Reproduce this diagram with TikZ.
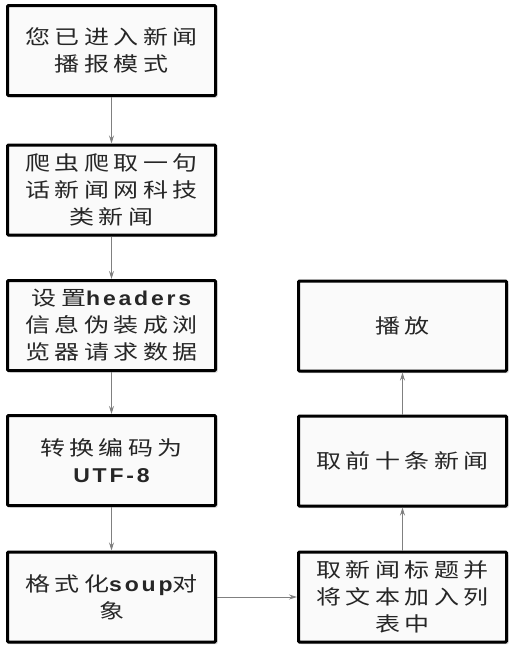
\documentclass[tikz,border=0pt]{standalone}
\usepackage{fontspec}
\setmainfont{Liberation Sans}
\newfontfamily\cjkf[LetterSpace=22,FakeStretch=1.25]{Noto Sans CJK SC}
\newfontfamily\latf[LetterSpace=14,FakeStretch=1.15]{Liberation Sans}
\usetikzlibrary{shadows,arrows.meta}
\newcommand\zh[1]{{\cjkf #1}}
\newcommand\en[1]{{\latf\bfseries #1}}
\tikzset{
  box/.style={draw=black, line width=3pt, rounded corners=1pt, fill=black!2,
    minimum width=208pt, minimum height=90pt, inner sep=0pt, align=center,
    text=black!85, font=\fontsize{20pt}{27pt}\selectfont,
    drop shadow={shadow xshift=2pt, shadow yshift=-2pt, fill=black!25, opacity=0.6}},
  conn/.style={draw=black!50, line width=1pt, -{Stealth[length=8pt,width=5pt]}}
}
\begin{document}
\begin{tikzpicture}[x=1pt,y=-1pt]
\useasboundingbox (0,0) rectangle (518,649);
\node[box] (a) at (111.5,50.5) {\zh{您已进入新闻}\\\zh{播报模式}};
\node[box] (b) at (111.5,190) {\zh{爬虫爬取一句}\\\zh{话新闻网科技}\\\zh{类新闻}};
\node[box] (c) at (111.5,325.5) {\zh{设置}\en{headers}\\\zh{信息伪装成浏}\\\zh{览器请求数据}};
\node[box] (d) at (111.5,460.5) {\zh{转换编码为}\\\en{UTF-8}};
\node[box] (e) at (111.5,597) {\zh{格式化}\en{soup}\zh{对}\\\zh{象}};
\node[box] (f) at (402.5,597) {\zh{取新闻标题并}\\\zh{将文本加入列}\\\zh{表中}};
\node[box] (g) at (402.5,461) {\zh{取前十条新闻}};
\node[box] (h) at (402.5,326) {\zh{播放}};
\draw[conn] (a) -- (b);
\draw[conn] (b) -- (c);
\draw[conn] (c) -- (d);
\draw[conn] (d) -- (e);
\draw[conn] (e) -- (f);
\draw[conn] (f) -- (g);
\draw[conn] (g) -- (h);
\end{tikzpicture}
\end{document}
